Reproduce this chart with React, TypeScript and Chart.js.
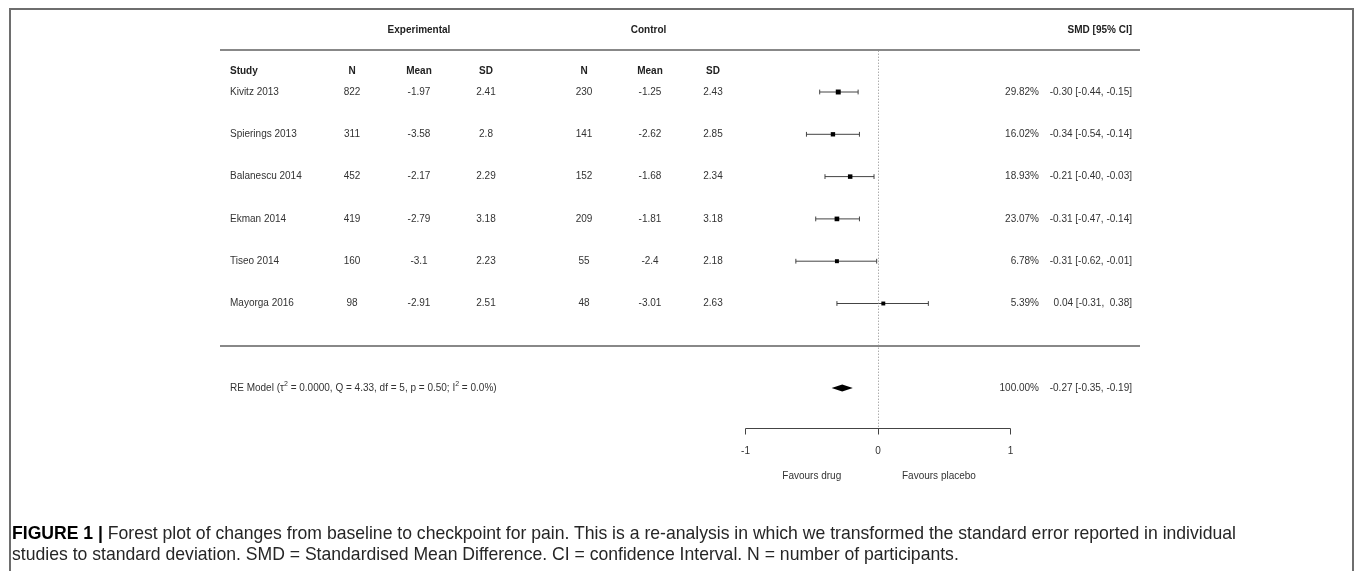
import React, { useEffect, useLayoutEffect, useRef } from "react";
import { Chart, registerables } from "chart.js";

Chart.register(...registerables);

// ---------------- data ----------------
const studies = ["Kivitz 2013", "Spierings 2013", "Balanescu 2014", "Ekman 2014", "Tiseo 2014", "Mayorga 2016"];
const expN = [822, 311, 452, 419, 160, 98];
const expMean = [-1.97, -3.58, -2.17, -2.79, -3.1, -2.91];
const expSD = [2.41, 2.8, 2.29, 3.18, 2.23, 2.51];
const ctrlN = [230, 141, 152, 209, 55, 48];
const ctrlMean = [-1.25, -2.62, -1.68, -1.81, -2.4, -3.01];
const ctrlSD = [2.43, 2.85, 2.34, 3.18, 2.18, 2.63];
const smd = [-0.3, -0.34, -0.21, -0.31, -0.31, 0.04];
const ciLow = [-0.44, -0.54, -0.4, -0.47, -0.62, -0.31];
const ciHigh = [-0.15, -0.14, -0.03, -0.14, -0.01, 0.38];
const weights = [29.82, 16.02, 18.93, 23.07, 6.78, 5.39];
const pooledEst = -0.27;
const pooledLow = -0.35;
const pooledHigh = -0.19;
const pooledWeight = 100.0;
const axisTicks = [-1, 0, 1];
const favourLabels = ["Favours drug", "Favours placebo"];
const favourAt = [-0.5, 0.46];
const columnHeaders = ["Study", "N", "Mean", "SD", "N", "Mean", "SD"];

const captionLine1 =
  "Forest plot of changes from baseline to checkpoint for pain. This is a re-analysis in which we transformed the standard error reported in individual";
const captionLine2 =
  "studies to standard deviation. SMD = Standardised Mean Difference. CI = confidence Interval. N = number of participants.";

// ---------------- layout (pixels) ----------------
const W = 1355;
const H = 490;
const colX = [230, 352, 419, 486, 584, 650, 713];
const weightRight = 1039;
const ciRight = 1132;
const lineLeft = 220;
const lineRight = 1140;
const captionTargetWidth = 1224;

const FONT = "'Liberation Sans', Arial, Helvetica, sans-serif";

const fmt = (v: number) => (v < 0 ? "" : " ") + v.toFixed(2);

const forestPlugin = {
  id: "forest",
  afterDraw(chart: any) {
    const ctx = chart.ctx as CanvasRenderingContext2D;
    const xs = chart.scales.x;
    const ys = chart.scales.y;
    const px = (v: number) => xs.getPixelForValue(v);
    const py = (v: number) => ys.getPixelForValue(v);
    ctx.save();
    ctx.textBaseline = "middle";

    // group headers
    ctx.fillStyle = "#222";
    ctx.font = `bold 10px ${FONT}`;
    ctx.textAlign = "center";
    ctx.fillText("Experimental", (colX[1] + colX[3]) / 2, py(-0.47));
    ctx.fillText("Control", (colX[4] + colX[6]) / 2, py(-0.47));
    ctx.textAlign = "right";
    ctx.fillText("SMD [95% CI]", ciRight, py(-0.47));

    // separator lines
    ctx.strokeStyle = "#888";
    ctx.lineWidth = 2;
    [0, 7].forEach((v) => {
      const y = Math.round(py(v));
      ctx.beginPath();
      ctx.moveTo(lineLeft, y);
      ctx.lineTo(lineRight, y);
      ctx.stroke();
    });

    // column headers
    ctx.font = `bold 10px ${FONT}`;
    columnHeaders.forEach((h, i) => {
      ctx.textAlign = i === 0 ? "left" : "center";
      ctx.fillText(h, colX[i], py(0.5));
    });

    // study rows
    ctx.font = `10px ${FONT}`;
    ctx.fillStyle = "#333";
    studies.forEach((s, i) => {
      const y = py(i + 1);
      const cells = [s, String(expN[i]), String(expMean[i]), String(expSD[i]), String(ctrlN[i]), String(ctrlMean[i]), String(ctrlSD[i])];
      cells.forEach((c, j) => {
        ctx.textAlign = j === 0 ? "left" : "center";
        ctx.fillText(c, colX[j], y);
      });
      ctx.textAlign = "right";
      ctx.fillText(`${weights[i].toFixed(2)}%`, weightRight, y);
      ctx.fillText(`${fmt(smd[i])} [${fmt(ciLow[i])}, ${fmt(ciHigh[i])}]`, ciRight, y);
    });

    // RE model row
    const yRE = py(8);
    const parts: { t: string; sup?: boolean }[] = [
      { t: "RE Model (\u03c4" },
      { t: "2", sup: true },
      { t: " = 0.0000, Q = 4.33, df = 5, p = 0.50; I" },
      { t: "2", sup: true },
      { t: " = 0.0%)" },
    ];
    ctx.textAlign = "left";
    let x = colX[0];
    parts.forEach((p) => {
      ctx.font = p.sup ? `7px ${FONT}` : `10px ${FONT}`;
      ctx.fillText(p.t, x, p.sup ? yRE - 4 : yRE);
      x += ctx.measureText(p.t).width;
    });
    ctx.font = `10px ${FONT}`;
    ctx.textAlign = "right";
    ctx.fillText(`${pooledWeight.toFixed(2)}%`, weightRight, yRE);
    ctx.fillText(`${fmt(pooledEst)} [${fmt(pooledLow)}, ${fmt(pooledHigh)}]`, ciRight, yRE);

    // diamond
    ctx.fillStyle = "#000";
    ctx.beginPath();
    ctx.moveTo(px(pooledLow), yRE);
    ctx.lineTo(px(pooledEst), yRE - 3.5);
    ctx.lineTo(px(pooledHigh), yRE);
    ctx.lineTo(px(pooledEst), yRE + 3.5);
    ctx.closePath();
    ctx.fill();

    // reference dotted line
    const yAxis = Math.round(py(8.94)) + 0.5;
    ctx.strokeStyle = "#888";
    ctx.lineWidth = 1;
    ctx.setLineDash([1, 2]);
    ctx.beginPath();
    ctx.moveTo(Math.round(px(0)) + 0.5, py(0) + 1);
    ctx.lineTo(Math.round(px(0)) + 0.5, yAxis);
    ctx.stroke();
    ctx.setLineDash([]);

    // axis
    ctx.strokeStyle = "#444";
    ctx.beginPath();
    ctx.moveTo(Math.round(px(axisTicks[0])) + 0.5, yAxis);
    ctx.lineTo(Math.round(px(axisTicks[axisTicks.length - 1])) + 0.5, yAxis);
    axisTicks.forEach((t) => {
      const tx = Math.round(px(t)) + 0.5;
      ctx.moveTo(tx, yAxis);
      ctx.lineTo(tx, yAxis + 6);
    });
    ctx.stroke();
    ctx.fillStyle = "#333";
    ctx.textAlign = "center";
    axisTicks.forEach((t) => ctx.fillText(String(t), px(t), py(9.5)));
    favourLabels.forEach((l, i) => ctx.fillText(l, px(favourAt[i]), py(10.08)));

    ctx.restore();
  },
};

export default function App() {
  const ref = useRef<HTMLCanvasElement | null>(null);
  const capRef = useRef<HTMLDivElement | null>(null);
  const line1Ref = useRef<HTMLSpanElement | null>(null);

  useLayoutEffect(() => {
    if (!capRef.current || !line1Ref.current) return;
    const w = line1Ref.current.getBoundingClientRect().width;
    if (w > 0) {
      capRef.current.style.transform = `scaleX(${captionTargetWidth / w})`;
    }
  }, []);

  useEffect(() => {
    if (!ref.current) return;
    const squareData = smd.map((v, i) => ({ x: v, y: i + 1 }));
    const ciSets = studies.map((s, i) => ({
      type: "line" as const,
      label: s,
      data: [
        { x: ciLow[i], y: i + 1 },
        { x: ciHigh[i], y: i + 1 },
      ],
      showLine: true,
      borderColor: "#444",
      borderWidth: 1,
      pointStyle: "line" as const,
      pointRotation: 90,
      pointRadius: 2.4,
      pointBorderWidth: 1,
      pointBorderColor: "#444",
      fill: false,
    }));
    const chart = new Chart(ref.current, {
      type: "scatter",
      data: {
        datasets: [
          {
            label: "SMD",
            data: squareData,
            pointStyle: "rect",
            pointRadius: weights.map((w) => 2.6 + w * 0.03),
            backgroundColor: "#000",
            borderColor: "#000",
            borderWidth: 0,
          } as any,
          ...ciSets,
        ],
      },
      options: {
        animation: false,
        responsive: true,
        maintainAspectRatio: false,
        events: [],
        layout: { padding: 0, autoPadding: false },
        plugins: { legend: { display: false }, tooltip: { enabled: false }, title: { display: false } },
        scales: {
          x: { type: "linear", min: -6.6264, max: 3.6, display: false },
          y: { type: "linear", min: -1.175, max: 10.409, reverse: true, display: false },
        },
      },
      plugins: [forestPlugin],
    });
    return () => chart.destroy();
  }, []);

  return (
    <div>
      <div
        style={{
          position: "fixed",
          left: 9,
          top: 8,
          width: 1345,
          height: 600,
          boxSizing: "border-box",
          borderTop: "2px solid #6e6e6e",
          borderLeft: "2px solid #6e6e6e",
          borderRight: "2px solid #6e6e6e",
        }}
      />
      <div style={{ position: "fixed", left: 0, top: 0, width: W, height: H }}>
        <canvas ref={ref} />
      </div>
      <div
        ref={capRef}
        style={{
          position: "fixed",
          left: 12,
          top: 522,
          fontFamily: "'Liberation Sans', Arial, sans-serif",
          fontSize: 18.5,
          lineHeight: "21px",
          color: "#262626",
          whiteSpace: "nowrap",
          transformOrigin: "0 0",
        }}
      >
        <div>
          <span ref={line1Ref}>
            <b style={{ color: "#000" }}>FIGURE 1 |</b> {captionLine1}
          </span>
        </div>
        <div>{captionLine2}</div>
      </div>
    </div>
  );
}
